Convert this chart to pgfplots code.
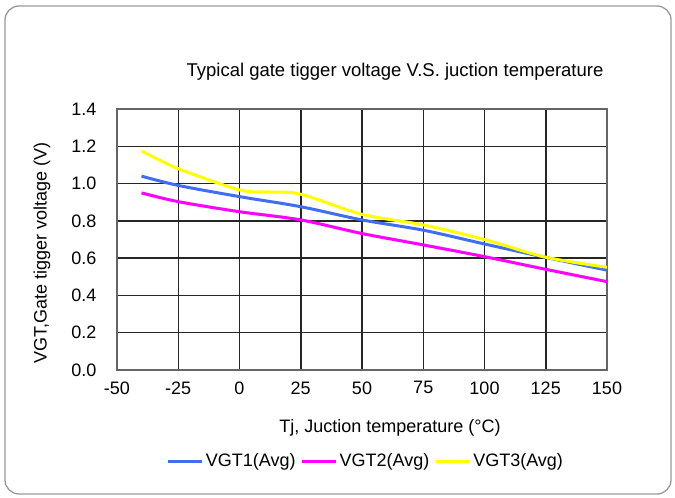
\documentclass[border=0pt]{standalone}
\usepackage{pgfplots}
\pgfplotsset{compat=1.18}
\usepackage{fontspec}
\setmainfont{Liberation Sans}
\definecolor{vblue}{RGB}{65,110,240}
\definecolor{vmag}{RGB}{255,0,255}
\definecolor{vyel}{RGB}{255,255,0}
\begin{document}
\begin{tikzpicture}[x=1pt,y=1pt]
\path[use as bounding box] (0,0) rectangle (675,-498);
\draw[gray!80, line width=1.3pt, rounded corners=14pt] (5,-6) rectangle (671,-494);
\begin{axis}[
  at={(117pt,-370pt)}, anchor=south west,
  scale only axis, width=490pt, height=261pt,
  xmin=-50, xmax=150, ymin=0, ymax=1.4,
  xtick={-50,-25,0,25,50,75,100,125,150},
  xticklabels={-50,-25,0,25,50,75,100,125,150},
  ytick={0,0.2,0.4,0.6,0.8,1.0,1.2,1.4},
  yticklabels={0.0,0.2,0.4,0.6,0.8,1.0,1.2,1.4},
  major tick length=0pt,
  grid=major,
  major grid style={black!85, line width=1.5pt},
  axis line style={black!60, line width=2pt},
  tick label style={font=\fontsize{18}{20}\selectfont},
  xticklabel style={yshift=-8pt},
  yticklabel style={xshift=-17pt},
  legend style={at={(0.508,-0.349)}, anchor=center, draw=none, fill=none,
    font=\fontsize{18}{20}\selectfont, legend columns=3,
    /tikz/every even column/.append style={column sep=3pt},
    inner sep=0pt},
  legend cell align=left,
  legend image code/.code={\draw[#1] (0pt,0pt) -- (34pt,0pt);},
  clip=false,
]
\addplot[vblue, line width=3pt, smooth, tension=0.5] coordinates {
  (-40,1.04) (-25,0.99) (0,0.93) (25,0.876) (50,0.805) (75,0.75) (100,0.676) (125,0.604) (150,0.536)};
\addlegendentry{VGT1(Avg)}
\addplot[vmag, line width=3pt, smooth, tension=0.5] coordinates {
  (-40,0.95) (-25,0.903) (0,0.849) (25,0.805) (50,0.732) (75,0.671) (100,0.608) (125,0.54) (150,0.474)};
\addlegendentry{VGT2(Avg)}
\addplot[vyel, line width=3pt, smooth, tension=0.5] coordinates {
  (-40,1.175) (-25,1.08) (0,0.966) (12,0.955) (25,0.943) (50,0.835) (75,0.778) (100,0.70) (125,0.605) (150,0.551)};
\addlegendentry{VGT3(Avg)}
\end{axis}
\node[font=\fontsize{18.5}{20}\selectfont] at (395,-72) {Typical gate tigger voltage V.S. juction temperature};
\node[font=\fontsize{18}{20}\selectfont, rotate=90] at (42,-253) {VGT,Gate tigger voltage (V)};
\node[font=\fontsize{18}{20}\selectfont] at (390,-428) {Tj, Juction temperature (\textdegree C)};
\end{tikzpicture}
\end{document}
